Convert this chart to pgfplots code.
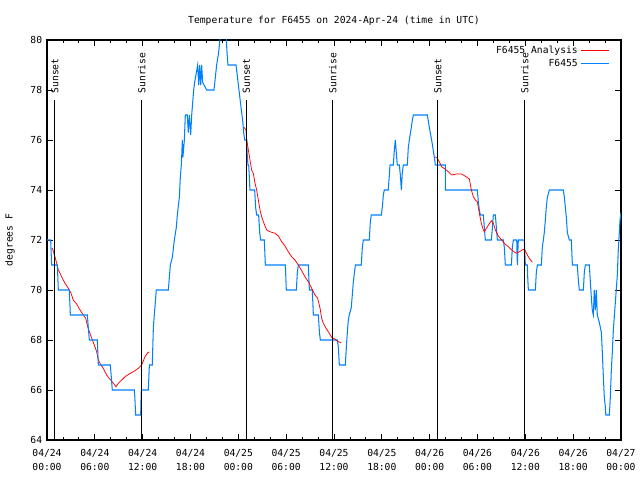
\documentclass[border=0pt]{standalone}
\usepackage{fontspec}
\setmainfont{DejaVu Sans Mono}
\usepackage{pgfplots}
\pgfplotsset{compat=1.18}
\definecolor{obsblue}{RGB}{0,128,255}
\begin{document}
\begin{tikzpicture}[font=\fontsize{7}{8.5}\selectfont]
\useasboundingbox (-0.47in,-0.40in) rectangle (5.93in,4.40in);
\begin{axis}[
  scale only axis, width=5.74in, height=4.0in,
  at={(0,0)}, anchor=south west,
  xmin=0, xmax=72, ymin=64, ymax=80,
  xtick={0,6,...,72},
  xticklabels={{04/24\\00:00},{04/24\\06:00},{04/24\\12:00},{04/24\\18:00},{04/25\\00:00},{04/25\\06:00},{04/25\\12:00},{04/25\\18:00},{04/26\\00:00},{04/26\\06:00},{04/26\\12:00},{04/26\\18:00},{04/27\\00:00}},
  xticklabel style={align=center, font=\fontsize{7}{10}\selectfont, yshift=-3.5pt},
  minor xtick={2,4,8,10,14,16,20,22,26,28,32,34,38,40,44,46,50,52,56,58,62,64,68,70},
  ytick={64,66,...,80},
  /pgf/number format/assume math mode=true,
  tick align=inside,
  major tick length=0.06in, minor tick length=0.03in,
  tick style={black, line width=0.6pt},
  axis line style={line width=0.8pt},
  title={Temperature for F6455 on 2024-Apr-24 (time in UTC)},
  title style={at={(axis description cs:0.5,1.026)}, anchor=center},
  ylabel={degrees F},
  ylabel style={at={(axis description cs:-0.0645,0.5)}, anchor=center, rotate=0},
  legend plot pos=right,
  legend cell align=right,
  legend style={at={(axis description cs:0.983,0.996)}, anchor=north east, draw=none, fill=none,
    inner sep=1pt, row sep=-1.5pt,
    legend image code/.code={\draw[#1] (0in,0in) -- (0.28in,0in);}},
]
% Analysis (red)
\addplot[red, line width=0.55pt] coordinates {
(0.67,71.67) (1.0,71.33) (1.21,71.07) (1.42,70.8) (1.63,70.67) (1.92,70.47) (2.26,70.27) (2.68,70.07) (3.01,69.87) (3.30,69.6) (3.72,69.44) (4.14,69.2) (4.56,69.0) (4.85,68.87) (5.10,68.53) (5.39,68.27) (5.69,68.0) (5.94,67.8) (6.23,67.53) (6.44,67.2) (6.77,67.0) (7.06,66.87) (7.48,66.6) (7.90,66.43) (8.32,66.27) (8.65,66.13) (8.95,66.27) (9.37,66.4) (9.79,66.53) (10.29,66.64) (10.83,66.73) (11.46,66.87) (11.88,67.0) (12.29,67.33) (12.63,67.49) (12.84,67.52)
};
\addlegendentry{F6455 Analysis}
\addplot[obsblue, line width=0.75pt] coordinates {
(0,72) (0.46,72) (0.52,71.5) (0.58,71) (1.30,71) (1.42,70) (2.80,70) (2.93,69) (5.06,69) (5.18,68.5) (5.31,68) (6.31,68) (6.44,67) (7.94,67) (8.07,66.5) (8.19,66) (10.95,66) (11.02,65.7) (11.12,65) (11.75,65) (11.80,65.7) (11.83,66) (12.71,66) (12.84,67) (13.21,67) (13.34,68.5) (13.46,69) (13.71,70) (15.22,70) (15.47,71) (15.72,71.3) (15.97,72) (16.22,72.5) (16.35,73) (16.60,73.7) (16.72,74.5) (16.85,75) (16.98,76) (17.04,75.3) (17.10,75.5) (17.23,76) (17.35,77) (17.60,77) (17.72,76.3) (17.85,77) (18.02,76.2) (18.15,77) (18.40,78) (18.52,78.3) (18.90,79) (19.03,78.2) (19.15,79) (19.28,78.2) (19.40,79) (19.53,78.3) (20.03,78) (20.95,78) (21.28,79) (21.53,79.5) (21.78,80.3) (22.45,80.3) (22.58,79.5) (22.70,79) (23.71,79) (24.08,78) (24.34,77.3) (24.54,76.8) (24.67,76.3) (24.79,76) (25.05,76) (25.10,75.5) (25.21,75) (25.30,75) (25.46,74) (26.05,74) (26.17,73.3) (26.30,73) (26.55,73) (26.68,72.3) (26.80,72) (27.26,72) (27.39,71) (29.90,71) (30.02,70) (31.28,70) (31.40,70.7) (31.53,71) (32.78,71) (32.91,70) (33.28,70) (33.41,69) (34.04,69) (34.17,68.3) (34.29,68) (36.42,68) (36.55,67.7) (36.67,67) (37.42,67) (37.55,67.7) (37.67,68.3) (37.80,68.8) (37.92,69) (38.17,69.3) (38.42,70.3) (38.68,71) (39.43,71) (39.55,71.7) (39.68,72) (40.43,72) (40.55,72.7) (40.68,73) (41.94,73) (42.06,73.3) (42.19,73.8) (42.31,74) (42.81,74) (42.92,74.5) (43.03,75) (43.44,75) (43.57,75.6) (43.69,76) (43.94,75) (44.20,75) (44.32,74.6) (44.45,74) (44.57,74.7) (44.70,75) (45.20,75) (45.32,75.7) (45.45,76) (45.70,76.5) (45.83,76.8) (45.95,77) (47.71,77) (47.96,76.5) (48.25,76) (48.59,75.3) (48.71,75) (49.97,75) (49.97,74) (53.98,74) (54.11,73.5) (54.23,73.2) (54.36,73) (54.73,73) (54.86,72.5) (54.98,72) (55.74,72) (55.87,72.5) (55.99,73) (56.24,73) (56.37,72.5) (56.49,72) (57.24,72) (57.37,71.7) (57.49,71) (58.25,71) (58.37,71.7) (58.50,72) (58.92,72) (59.0,71) (59.12,72) (59.88,72) (60.00,71) (60.25,71) (60.30,70.5) (60.38,70) (61.26,70) (61.38,70.7) (61.51,71) (62.01,71) (62.13,71.7) (62.26,72) (62.38,72.3) (62.51,72.8) (62.63,73.3) (62.76,73.7) (63.01,74) (64.77,74) (64.90,73.7) (65.02,73.3) (65.15,72.9) (65.27,72.3) (65.52,72) (65.77,72) (65.90,71) (66.52,71) (66.65,70.4) (66.77,70) (67.28,70) (67.40,70.7) (67.53,71) (68.03,71) (68.16,70.3) (68.28,69.7) (68.40,69.2) (68.53,69) (68.65,70) (68.78,69.2) (68.90,70) (69.03,69) (69.28,68.7) (69.54,68.3) (69.66,67.5) (69.79,66.5) (69.91,65.7) (70.04,65.3) (70.10,65) (70.54,65) (70.66,65.7) (70.79,66.8) (70.91,67.5) (71.04,68.4) (71.29,69.5) (71.54,70.6) (71.66,71.6) (71.79,72.3) (71.88,72.8) (72,73.1)
};
\addlegendentry{F6455}
\addplot[red, line width=0.55pt, forget plot] coordinates {
(24.71,76.51) (24.96,76.4) (25.05,76.0) (25.26,75.6) (25.46,75.2) (25.67,74.8) (25.88,74.67) (26.09,74.27) (26.30,74.0) (26.51,73.6) (26.72,73.2) (26.93,72.93) (27.14,72.73) (27.56,72.4) (27.97,72.33) (28.60,72.27) (29.02,72.16) (29.44,71.93) (29.85,71.76) (30.27,71.53) (30.69,71.33) (31.11,71.2) (31.53,71.0) (31.95,70.77) (32.36,70.53) (32.78,70.33) (33.20,70.07) (33.62,69.8) (33.95,69.67) (34.25,69.27) (34.45,68.87) (34.66,68.67) (35.0,68.47) (35.29,68.33) (35.71,68.11) (36.13,68.03) (36.54,67.93) (36.92,67.89)
};
\addplot[red, line width=0.55pt, forget plot] coordinates {
(48.71,75.33) (48.96,75.27) (49.21,75.13) (49.50,74.93) (49.92,74.84) (50.34,74.73) (50.76,74.6) (51.39,74.64) (52.01,74.64) (52.43,74.56) (52.98,74.44) (53.23,74.0) (53.48,73.73) (53.73,73.6) (53.98,73.53) (54.23,73.07) (54.48,72.67) (54.73,72.4) (54.86,72.33) (55.23,72.53) (55.74,72.77) (55.99,72.67) (56.24,72.4) (56.62,72.16) (57.04,72.0) (57.45,71.84) (57.87,71.73) (58.41,71.57) (58.83,71.47) (59.25,71.53) (59.75,71.63) (60.0,71.57) (60.25,71.4) (60.5,71.27) (60.88,71.11)
};
% sunset / sunrise markers
\addplot[black, line width=0.6pt, forget plot] coordinates {(0.92,64) (0.92,77.6)};
\addplot[black, line width=0.6pt, forget plot] coordinates {(11.83,64) (11.83,77.6)};
\addplot[black, line width=0.6pt, forget plot] coordinates {(24.96,64) (24.96,77.6)};
\addplot[black, line width=0.6pt, forget plot] coordinates {(35.79,64) (35.79,77.6)};
\addplot[black, line width=0.6pt, forget plot] coordinates {(48.96,64) (48.96,77.6)};
\addplot[black, line width=0.6pt, forget plot] coordinates {(59.88,64) (59.88,77.6)};
\node[rotate=90, anchor=west, inner sep=0pt] at (axis cs:0.98,77.85) {Sunset};
\node[rotate=90, anchor=west, inner sep=0pt] at (axis cs:11.89,77.85) {Sunrise};
\node[rotate=90, anchor=west, inner sep=0pt] at (axis cs:25.02,77.85) {Sunset};
\node[rotate=90, anchor=west, inner sep=0pt] at (axis cs:35.85,77.85) {Sunrise};
\node[rotate=90, anchor=west, inner sep=0pt] at (axis cs:49.02,77.85) {Sunset};
\node[rotate=90, anchor=west, inner sep=0pt] at (axis cs:59.94,77.85) {Sunrise};
\end{axis}
\end{tikzpicture}
\end{document}
